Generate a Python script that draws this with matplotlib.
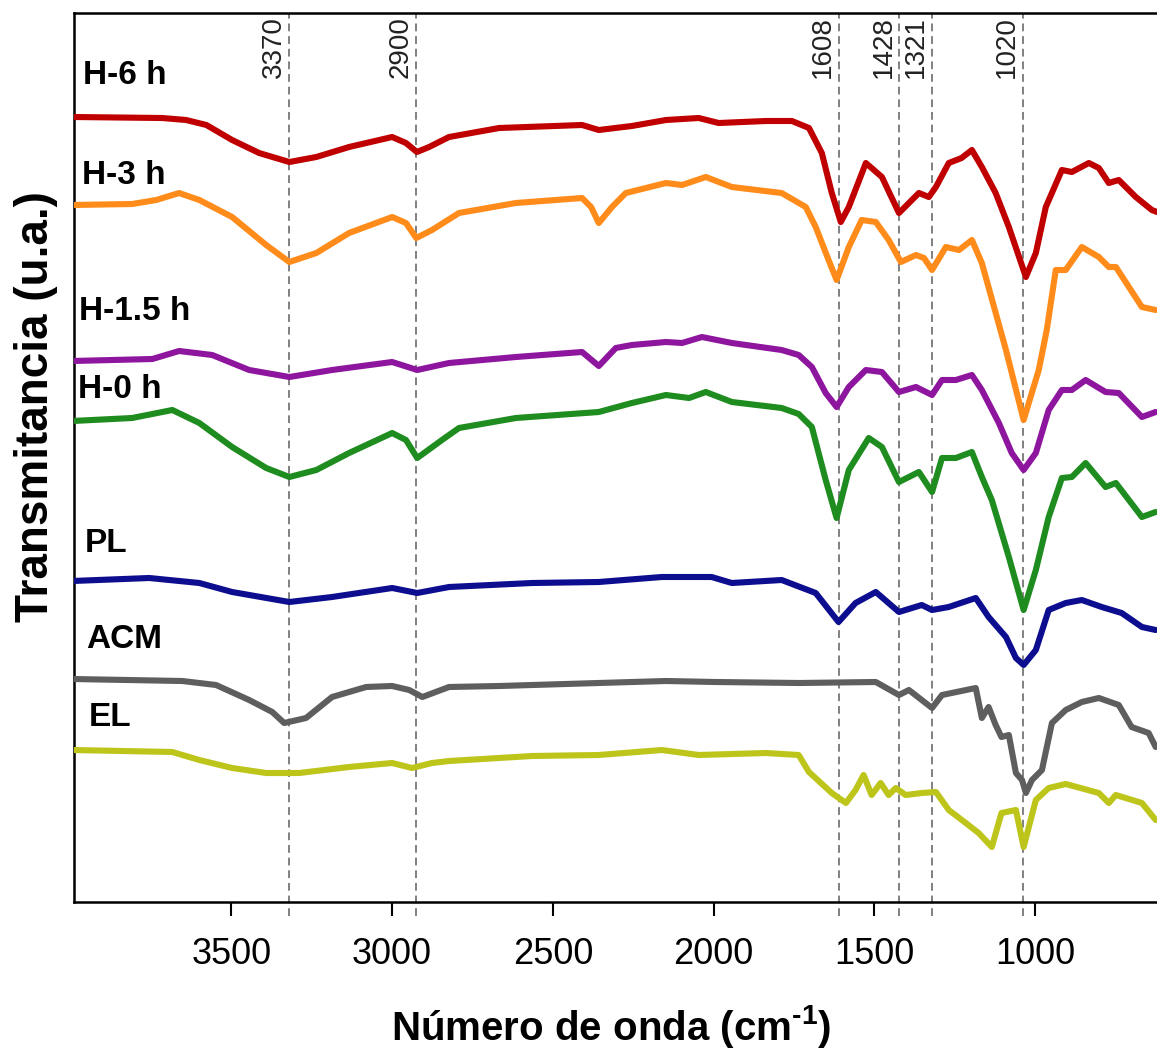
import matplotlib
matplotlib.use('Agg')
import matplotlib.pyplot as plt

plt.rcParams['font.family'] = 'Liberation Sans'
plt.rcParams['mathtext.fontset'] = 'custom'
plt.rcParams['mathtext.rm'] = 'Liberation Sans:bold'
plt.rcParams['mathtext.bf'] = 'Liberation Sans:bold'
plt.rcParams['mathtext.default'] = 'bf'

# FTIR spectra (wavenumber in cm-1, transmittance in a.u., already offset)
w_h6 = [3992, 3716, 3641, 3578, 3498, 3414, 3320, 3236, 3134, 3000, 2957, 2923, 2885, 2823,
        2667, 2409, 2357, 2254, 2148, 2046, 1984, 1837, 1756, 1703, 1663, 1632, 1604, 1579,
        1526, 1476, 1423, 1361, 1330, 1308, 1268, 1228, 1196, 1165, 1122, 1081, 1028, 997,
        966, 916, 885, 832, 801, 770, 739, 686, 636, 620]
t_h6 = [785, 784, 782, 777, 762, 749, 740, 745, 755, 765, 759, 750, 755, 765,
        774, 777, 772, 776, 782, 784, 779, 781, 781, 774, 749, 709, 680, 695,
        739, 725, 689, 709, 705, 715, 739, 744, 752, 735, 709, 675, 625, 649,
        695, 732, 730, 739, 734, 719, 722, 705, 692, 690]

w_h3 = [3995, 3809, 3734, 3663, 3600, 3498, 3392, 3320, 3236, 3134, 3000, 2957, 2925, 2876,
        2792, 2615, 2409, 2381, 2357, 2316, 2273, 2148, 2098, 2024, 1943, 1788, 1713, 1682,
        1642, 1617, 1579, 1539, 1495, 1455, 1417, 1370, 1345, 1320, 1277, 1236, 1196, 1165,
        1090, 1035, 988, 963, 935, 904, 854, 801, 770, 748, 667, 624]
t_h3 = [697, 698, 702, 709, 702, 685, 657, 640, 649, 669, 685, 679, 664, 672,
        689, 699, 704, 695, 679, 695, 709, 719, 717, 725, 715, 709, 695, 675,
        642, 622, 655, 682, 680, 662, 640, 647, 644, 632, 655, 652, 662, 639,
        552, 482, 532, 572, 632, 632, 655, 645, 635, 635, 595, 592]

w_h15 = [3995, 3746, 3663, 3560, 3445, 3320, 3187, 3000, 2922, 2823, 2615, 2409, 2357, 2304,
         2254, 2148, 2098, 2036, 1943, 1788, 1735, 1694, 1651, 1617, 1579, 1526, 1476, 1423,
         1370, 1320, 1289, 1246, 1196, 1165, 1112, 1072, 1035, 997, 957, 916, 885, 842,
         780, 739, 667, 624]
t_h15 = [541, 543, 551, 547, 532, 525, 532, 540, 532, 539, 545, 550, 536, 554,
         557, 560, 559, 565, 559, 552, 547, 535, 509, 495, 515, 532, 530, 510,
         515, 507, 522, 522, 527, 512, 479, 449, 432, 449, 492, 512, 512, 522,
         510, 509, 485, 490]

w_h0 = [3995, 3809, 3684, 3600, 3498, 3392, 3320, 3236, 3134, 3000, 2957, 2922, 2845, 2792,
        2615, 2357, 2254, 2148, 2076, 2024, 1943, 1788, 1735, 1694, 1651, 1617, 1579, 1517,
        1476, 1423, 1361, 1320, 1289, 1246, 1196, 1165, 1134, 1081, 1035, 997, 957, 916,
        885, 842, 780, 748, 667, 624]
t_h0 = [481, 484, 492, 479, 455, 434, 425, 432, 449, 469, 462, 444, 462, 474,
        484, 490, 499, 507, 504, 510, 500, 494, 488, 475, 422, 384, 432, 464,
        455, 420, 430, 410, 444, 444, 450, 425, 402, 345, 292, 332, 385, 424,
        425, 439, 415, 419, 385, 390]

w_pl = [3995, 3756, 3600, 3498, 3320, 3187, 3000, 2922, 2823, 2565, 2357, 2161, 2006, 1943,
        1788, 1682, 1611, 1558, 1495, 1423, 1352, 1320, 1268, 1184, 1144, 1090, 1059, 1035,
        997, 957, 904, 854, 792, 730, 667, 624]
t_pl = [321, 324, 319, 310, 300, 305, 314, 309, 315, 319, 320, 325, 325, 319,
        322, 309, 280, 299, 310, 290, 297, 292, 295, 304, 285, 265, 244, 237,
        252, 292, 299, 302, 295, 289, 275, 272]

w_acm = [3995, 3653, 3548, 3445, 3373, 3336, 3268, 3187, 3081, 3000, 2947, 2906, 2823, 2667,
         2357, 2148, 1993, 1735, 1495, 1423, 1392, 1320, 1289, 1184, 1165, 1144, 1122, 1104,
         1081, 1059, 1040, 1028, 1009, 978, 947, 904, 854, 801, 739, 699, 646, 624]
t_acm = [223, 221, 217, 202, 190, 179, 184, 205, 215, 216, 212, 205, 215, 216,
         219, 221, 220, 219, 220, 207, 212, 194, 207, 214, 184, 195, 177, 165,
         167, 129, 122, 109, 122, 132, 179, 192, 200, 204, 197, 175, 169, 155]

w_el = [3995, 3684, 3600, 3498, 3392, 3289, 3134, 3000, 2938, 2876, 2823, 2565, 2357, 2161,
        2046, 1837, 1735, 1703, 1632, 1588, 1558, 1533, 1508, 1480, 1455, 1433, 1402, 1352,
        1308, 1268, 1215, 1175, 1134, 1104, 1059, 1035, 997, 957, 904, 801, 770, 748,
        667, 624]
t_el = [152, 150, 142, 134, 129, 129, 135, 139, 134, 139, 141, 146, 147, 152,
        147, 149, 147, 130, 109, 99, 112, 127, 107, 119, 107, 114, 107, 109,
        110, 92, 79, 69, 55, 89, 92, 55, 102, 114, 118, 109, 99, 107,
        99, 82]

names = ['H-6 h', 'H-3 h', 'H-1.5 h', 'H-0 h', 'PL', 'ACM', 'EL']
colors = ['#C00000', '#FF8C1A', '#8E169E', '#1E8C1E', '#0D0D8F', '#5E5E5E', '#BEC51A']
label_w = [3963, 3966, 3975, 3977, 3958, 3952, 3943]
label_t = [827, 727, 590, 512, 359, 262, 184]

# marked bands: where the dashed lines sit and the number written next to them
band_pos = [3320, 2925, 1610, 1422, 1321, 1038]
band_txt = ['3370', '2900', '1608', '1428', '1321', '1020']

spectra = [(w_h6, t_h6), (w_h3, t_h3), (w_h15, t_h15), (w_h0, t_h0),
           (w_pl, t_pl), (w_acm, t_acm), (w_el, t_el)]

fig = plt.figure(figsize=(11.57, 10.55), dpi=100)
ax = fig.add_axes([74/1157, 153/1055, 1 - 74/1157, 889/1055])

ax.vlines(band_pos, -14, 889, colors='#808080', linestyles=(0, (4, 2.5)),
          linewidth=1.4, clip_on=False, zorder=1)
for p, s in zip(band_pos, band_txt):
    ax.text(p + 8, 886, s, rotation=90, ha='right', va='top', fontsize=20, color='#222222')

for (w, t), c in zip(spectra, colors):
    ax.plot(w, t, color=c, lw=4.4, solid_joinstyle='round', solid_capstyle='round', zorder=3)

for n, x, y in zip(names, label_w, label_t):
    ax.text(x, y, n, fontsize=24, fontweight='bold', ha='left', va='center')

ax.set_xlim(3990, 620)
ax.set_ylim(0, 889)
ax.set_xticks([3500, 3000, 2500, 2000, 1500, 1000])
ax.set_yticks([])
ax.tick_params(axis='x', direction='out', length=10, width=1.5, labelsize=26, pad=15)
ax.spines['right'].set_visible(False)
for s in ['left', 'top', 'bottom']:
    ax.spines[s].set_linewidth(1.8)

fig.text(611/1157, 1 - 1027/1055, r'Número de onda (cm$^{\text{-1}}$)', fontsize=29,
         fontweight='bold', ha='center', va='center')
fig.text(36/1157, 1 - 407/1055, 'Transmitancia (u.a.)', fontsize=33, fontweight='bold',
         rotation=90, ha='center', va='center')

fig.savefig('out.png', dpi=100)
